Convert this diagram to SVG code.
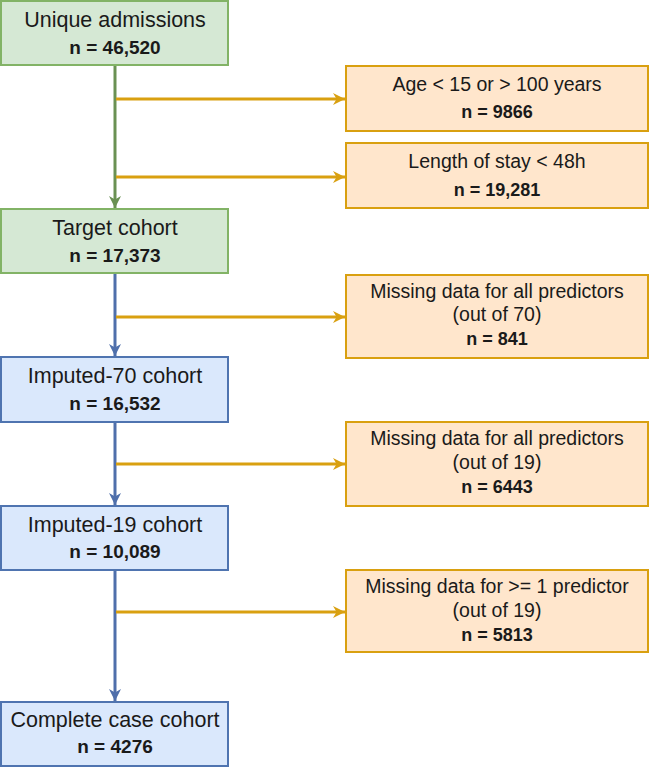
<svg xmlns="http://www.w3.org/2000/svg" width="650" height="768" viewBox="0 0 650 768">
<defs>
<style>
text{font-family:"Liberation Sans",Arial,sans-serif;font-size:19.5px;fill:#1a1a1a;text-anchor:middle}
.t{font-size:21.5px}
.b{font-weight:bold;font-size:19px}
.bs{font-weight:bold;font-size:18px}
.g{fill:#d5e8d4;stroke:#82b366;stroke-width:2}
.bl{fill:#dae8fc;stroke:#4f74b0;stroke-width:2}
.o{fill:#ffe6cc;stroke:#d9a010;stroke-width:2}
.lg{stroke:#6a9153;stroke-width:3;fill:none}
.lb{stroke:#4f6fab;stroke-width:3;fill:none}
.lo{stroke:#d9a010;stroke-width:3;fill:none}
</style>
<marker id="ag" viewBox="0 0 10 10" refX="10" refY="5" markerWidth="4" markerHeight="4" orient="auto" markerUnits="strokeWidth"><path d="M0,0 L10,5 L0,10 L3,5 Z" fill="#6a9153"/></marker>
<marker id="ab" viewBox="0 0 10 10" refX="10" refY="5" markerWidth="4" markerHeight="4" orient="auto" markerUnits="strokeWidth"><path d="M0,0 L10,5 L0,10 L3,5 Z" fill="#4f6fab"/></marker>
<marker id="ao" viewBox="0 0 10 10" refX="10" refY="5" markerWidth="4" markerHeight="4" orient="auto" markerUnits="strokeWidth"><path d="M0,0 L10,5 L0,10 L3,5 Z" fill="#d9a010"/></marker>
</defs>
<rect width="650" height="768" fill="#ffffff"/>
<g id="connectors">
<path class="lg" d="M115,66 V208" marker-end="url(#ag)"/>
<path class="lb" d="M115,274 V356" marker-end="url(#ab)"/>
<path class="lb" d="M115,423 V505" marker-end="url(#ab)"/>
<path class="lb" d="M115,571 V701" marker-end="url(#ab)"/>
<path class="lo" d="M116,99 H345" marker-end="url(#ao)"/>
<path class="lo" d="M116,177 H345" marker-end="url(#ao)"/>
<path class="lo" d="M116,317 H345" marker-end="url(#ao)"/>
<path class="lo" d="M116,464 H345" marker-end="url(#ao)"/>
<path class="lo" d="M116,612 H345" marker-end="url(#ao)"/>
</g>
<g id="unique"><rect class="g" x="1" y="1" width="227" height="64"/><text class="t" x="115" y="27">Unique admissions</text><text class="b" x="115" y="54">n = 46,520</text></g>
<g id="target"><rect class="g" x="1" y="209" width="227" height="64"/><text class="t" x="115" y="235">Target cohort</text><text class="b" x="115" y="262">n = 17,373</text></g>
<g id="imp70"><rect class="bl" x="1" y="357" width="227" height="65"/><text class="t" x="115" y="383">Imputed-70 cohort</text><text class="b" x="115" y="410">n = 16,532</text></g>
<g id="imp19"><rect class="bl" x="1" y="506" width="227" height="64"/><text class="t" x="115" y="532">Imputed-19 cohort</text><text class="b" x="115" y="558">n = 10,089</text></g>
<g id="complete"><rect class="bl" x="1" y="702" width="227" height="64"/><text class="t" x="115" y="727">Complete case cohort</text><text class="b" x="115" y="753">n = 4276</text></g>
<g id="age"><rect class="o" x="346" y="66" width="302" height="65"/><text x="497" y="91">Age &lt; 15 or &gt; 100 years</text><text class="bs" x="497" y="118">n = 9866</text></g>
<g id="los"><rect class="o" x="346" y="143" width="302" height="65"/><text x="497" y="168">Length of stay &lt; 48h</text><text class="bs" x="497" y="196">n = 19,281</text></g>
<g id="miss70"><rect class="o" x="346" y="275" width="302" height="83"/><text x="497" y="298">Missing data for all predictors</text><text x="497" y="321">(out of 70)</text><text class="bs" x="497" y="345">n = 841</text></g>
<g id="miss19"><rect class="o" x="346" y="422" width="302" height="84"/><text x="497" y="445">Missing data for all predictors</text><text x="497" y="469">(out of 19)</text><text class="bs" x="497" y="493">n = 6443</text></g>
<g id="miss1"><rect class="o" x="346" y="570" width="302" height="82"/><text x="497" y="593">Missing data for &gt;= 1 predictor</text><text x="497" y="617">(out of 19)</text><text class="bs" x="497" y="641">n = 5813</text></g>
</svg>
